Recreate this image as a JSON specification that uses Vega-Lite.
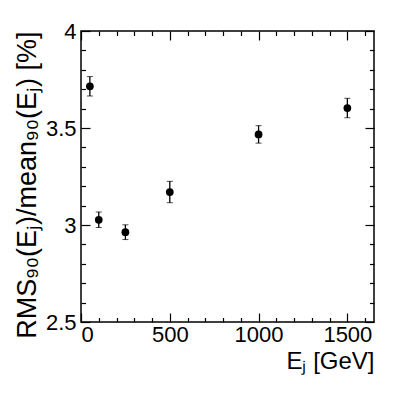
{
  "$schema": "https://vega.github.io/schema/vega-lite/v6.json",
  "width": 293,
  "height": 291,
  "autosize": {"type": "none"},
  "padding": {"left": 81, "top": 31, "right": 33, "bottom": 71},
  "background": "white",
  "config": {
    "view": {"stroke": "black", "strokeWidth": 1.5},
    "axis": {
      "domain": false, "grid": false, "tickColor": "black", "tickWidth": 1.2,
      "labelFont": "Liberation Sans", "labelFontSize": 22, "labelColor": "black",
      "titleFont": "Liberation Sans", "titleFontSize": 24, "titleFontWeight": "normal", "titleColor": "black"
    }
  },
  "data": {"values": [
    {"E": 50, "v": 3.715, "lo": 3.665, "hi": 3.765},
    {"E": 100, "v": 3.027, "lo": 2.987, "hi": 3.067},
    {"E": 250, "v": 2.963, "lo": 2.925, "hi": 3.001},
    {"E": 500, "v": 3.170, "lo": 3.115, "hi": 3.225},
    {"E": 1000, "v": 3.467, "lo": 3.422, "hi": 3.512},
    {"E": 1500, "v": 3.603, "lo": 3.553, "hi": 3.653}
  ]},
  "resolve": {"axis": {"x": "independent", "y": "independent"}},
  "layer": [
    {
      "mark": {"type": "errorbar", "ticks": {"size": 6, "color": "black", "strokeWidth": 1.3}, "rule": {"color": "black", "strokeWidth": 1.3}},
      "encoding": {
        "x": {"field": "E", "type": "quantitative", "scale": {"domain": [0, 1650], "nice": false}, "axis": null},
        "y": {"field": "lo", "type": "quantitative", "scale": {"domain": [2.5, 4], "nice": false, "zero": false}, "axis": null},
        "y2": {"field": "hi"}
      }
    },
    {
      "mark": {"type": "point", "filled": true, "color": "black", "opacity": 1, "size": 60},
      "encoding": {
        "x": {"field": "E", "type": "quantitative", "title": "Eⱼ [GeV]",
          "axis": {"orient": "bottom", "values": [0, 500, 1000, 1500], "tickSize": -9, "labelPadding": 11, "labelExpr": "'' + datum.value", "titleAnchor": "end", "titlePadding": 4}},
        "y": {"field": "v", "type": "quantitative", "title": "RMS₉₀(Eⱼ)/mean₉₀(Eⱼ) [%]",
          "axis": {"orient": "left", "values": [2.5, 3, 3.5, 4], "tickSize": -9, "labelPadding": 14, "labelExpr": "'' + datum.value", "titleAnchor": "end", "titlePadding": 4, "titleFontSize": 27}}
      }
    },
    {
      "mark": {"type": "point", "opacity": 0},
      "encoding": {
        "x": {"field": "E", "type": "quantitative", "axis": {"orient": "bottom", "values": [100, 200, 300, 400, 600, 700, 800, 900, 1100, 1200, 1300, 1400, 1600], "tickSize": -4.5, "labels": false, "title": null}},
        "y": {"field": "v", "type": "quantitative", "axis": {"orient": "left", "values": [2.6, 2.7, 2.8, 2.9, 3.1, 3.2, 3.3, 3.4, 3.6, 3.7, 3.8, 3.9], "tickSize": -4.5, "labels": false, "title": null}}
      }
    },
    {
      "mark": {"type": "point", "opacity": 0},
      "encoding": {
        "x": {"field": "E", "type": "quantitative", "axis": {"orient": "top", "values": [0, 500, 1000, 1500], "tickSize": -9, "labels": false, "title": null}},
        "y": {"field": "v", "type": "quantitative", "axis": {"orient": "right", "values": [2.5, 3, 3.5, 4], "tickSize": -9, "labels": false, "title": null}}
      }
    },
    {
      "mark": {"type": "point", "opacity": 0},
      "encoding": {
        "x": {"field": "E", "type": "quantitative", "axis": {"orient": "top", "values": [100, 200, 300, 400, 600, 700, 800, 900, 1100, 1200, 1300, 1400, 1600], "tickSize": -4.5, "labels": false, "title": null}},
        "y": {"field": "v", "type": "quantitative", "axis": {"orient": "right", "values": [2.6, 2.7, 2.8, 2.9, 3.1, 3.2, 3.3, 3.4, 3.6, 3.7, 3.8, 3.9], "tickSize": -4.5, "labels": false, "title": null}}
      }
    }
  ]
}
